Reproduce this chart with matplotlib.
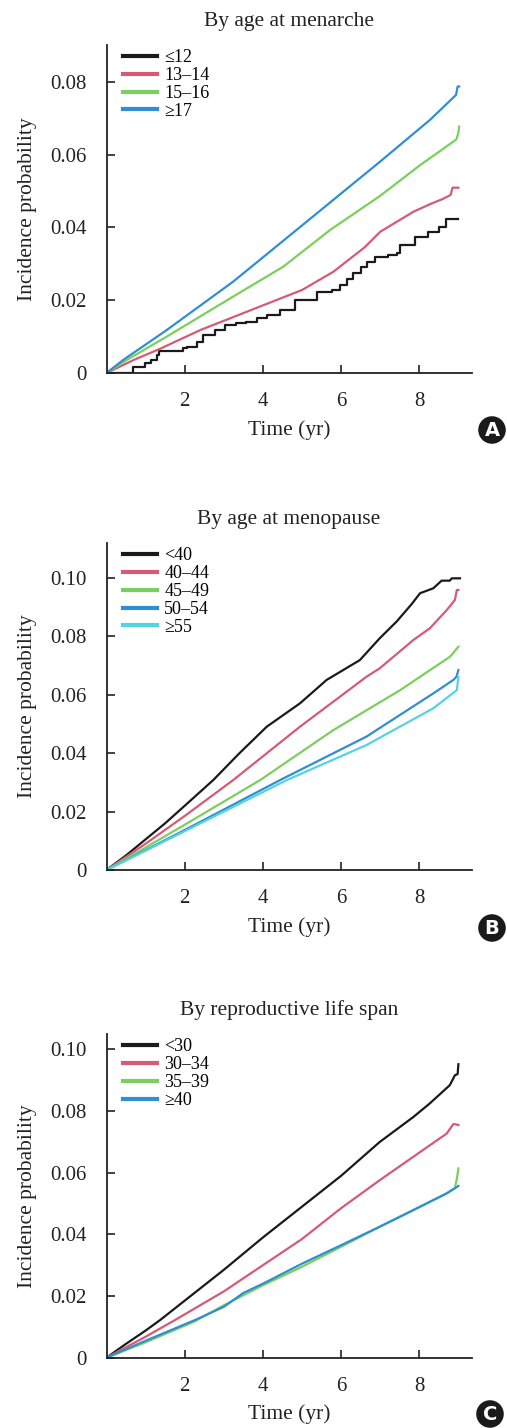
import matplotlib
matplotlib.use("Agg")
import matplotlib.pyplot as plt

# ==========================================
# 0. font / style
# ==========================================
plt.rcParams['font.family'] = ['Liberation Serif', 'DejaVu Serif']
plt.rcParams['axes.unicode_minus'] = False

C_BLACK = '#1a1a1a'
C_RED = '#d45b73'
C_GREEN = '#7bcf5c'
C_BLUE = '#2f8fd2'
C_CYAN = '#55d3df'

# ==========================================
# 1. data
# ==========================================
# A: age at menarche
a_le12_t = [0, 0.56, 0.68, 0.98, 1.13, 1.28, 1.33, 1.96, 2.05, 2.31, 2.48, 2.77, 3.03, 3.30, 3.58,
            3.84, 4.10, 4.44, 4.82, 5.25, 5.38, 5.76, 5.97, 6.15, 6.31, 6.50, 6.65, 6.87, 7.21,
            7.42, 7.51, 7.80, 7.89, 8.19, 8.22, 8.36, 8.50, 8.69, 9.00]
a_le12_v = [0, 0, 0.0017, 0.0028, 0.0035, 0.0049, 0.0061, 0.0068, 0.0072, 0.0086, 0.0104, 0.0118,
            0.0132, 0.0136, 0.0141, 0.0150, 0.0159, 0.0173, 0.0200, 0.0200, 0.0223, 0.0228, 0.0242,
            0.0258, 0.0274, 0.0290, 0.0306, 0.0320, 0.0324, 0.0329, 0.0352, 0.0352, 0.0374, 0.0374,
            0.0388, 0.0388, 0.0400, 0.0423, 0.0423]
a_13_t = [0, 0.7, 1.4, 2.4, 3.7, 5.0, 5.8, 6.6, 7.0, 7.85, 8.3, 8.6, 8.8, 8.85, 9.0]
a_13_v = [0, 0.0036, 0.0068, 0.0118, 0.0173, 0.0228, 0.0278, 0.0345, 0.0388, 0.0443, 0.0465,
          0.0478, 0.0489, 0.0509, 0.0509]
a_15_t = [0, 0.52, 1.54, 3.24, 4.52, 5.72, 6.99, 8.02, 8.6, 8.95, 9.0, 9.02]
a_15_v = [0, 0.0036, 0.0100, 0.0210, 0.0292, 0.0393, 0.0486, 0.0571, 0.0615, 0.0642, 0.0660, 0.0677]
a_ge17_t = [0, 0.43, 1.54, 3.24, 4.86, 6.99, 8.27, 8.94, 8.98, 9.02]
a_ge17_v = [0, 0.0036, 0.0118, 0.0251, 0.0393, 0.0580, 0.0695, 0.0764, 0.0787, 0.0787]

# B: age at menopause
b_lt40_t = [0, 0.5, 1.0, 1.5, 2.0, 2.73, 3.4, 4.10, 4.95, 5.63, 6.48, 6.99, 7.42, 7.8, 8.02,
            8.36, 8.57, 8.78, 8.83, 9.04]
b_lt40_v = [0, 0.0050, 0.0105, 0.0160, 0.0220, 0.0308, 0.0400, 0.0491, 0.0571, 0.0651, 0.0719,
            0.0794, 0.0851, 0.0910, 0.0948, 0.0965, 0.0991, 0.0991, 0.0999, 0.0999]
b_40_t = [0, 0.5, 1.0, 2.0, 3.24, 4.95, 6.65, 6.99, 7.85, 8.27, 8.70, 8.91, 8.96, 9.0]
b_40_v = [0, 0.0045, 0.0090, 0.0185, 0.0308, 0.0491, 0.0662, 0.0691, 0.0788, 0.0828, 0.0890,
          0.0925, 0.0959, 0.0959]
b_45_t = [0, 1.0, 2.0, 3.93, 5.80, 7.51, 8.79, 9.0]
b_45_v = [0, 0.0077, 0.0155, 0.0308, 0.0479, 0.0616, 0.0731, 0.0765]
b_50_t = [0, 1.0, 2.0, 4.44, 6.65, 8.36, 8.87, 8.95, 9.0]
b_50_v = [0, 0.0068, 0.0137, 0.0308, 0.0457, 0.0605, 0.0651, 0.0662, 0.0685]
b_ge55_t = [0, 1.0, 2.0, 4.61, 6.65, 8.36, 8.91, 8.96, 9.0]
b_ge55_v = [0, 0.0066, 0.0133, 0.0308, 0.0428, 0.0554, 0.0611, 0.0616, 0.0662]

# C: reproductive life span
c_lt30_t = [0, 0.5, 1.0, 1.37, 2.0, 3.0, 4.0, 5.0, 6.0, 6.99, 7.85, 8.27, 8.78, 8.91, 8.98, 9.0]
c_lt30_v = [0, 0.0045, 0.0088, 0.0122, 0.0185, 0.0285, 0.0390, 0.0490, 0.0590, 0.0700, 0.0781,
            0.0825, 0.0884, 0.0916, 0.0920, 0.0952]
c_30_t = [0, 1.0, 1.75, 3.0, 4.0, 5.0, 6.0, 6.99, 7.85, 8.70, 8.87, 9.0]
c_30_v = [0, 0.0068, 0.0122, 0.0215, 0.0300, 0.0385, 0.0485, 0.0576, 0.0652, 0.0727, 0.0758, 0.0755]
c_35_t = [0, 1.0, 2.26, 3.0, 4.0, 5.0, 6.0, 6.99, 7.85, 8.70, 8.91, 8.96, 9.0]
c_35_v = [0, 0.0050, 0.0118, 0.0170, 0.0235, 0.0295, 0.0360, 0.0425, 0.0479, 0.0533, 0.0550,
          0.0580, 0.0614]
c_ge40_t = [0, 1.0, 2.26, 3.0, 3.5, 4.0, 5.0, 6.0, 6.99, 7.85, 8.70, 9.0]
c_ge40_v = [0, 0.0055, 0.0122, 0.0165, 0.0210, 0.0240, 0.0305, 0.0365, 0.0425, 0.0479, 0.0533, 0.0557]

x_ticks = [2, 4, 6, 8]

# ==========================================
# 2. figure
# ==========================================
W, H = 507, 1428
fig = plt.figure(figsize=(W / 100, H / 100), dpi=100)


def px_axes(left, right, top, bottom):
    return fig.add_axes([left / W, 1 - bottom / H, (right - left) / W, (bottom - top) / H])


def style_axes(ax, ymax, yticks, title):
    ax.set_xlim(0, 9.34)
    ax.set_ylim(0, ymax)
    ax.set_xticks(x_ticks)
    ax.set_xticklabels([str(t) for t in x_ticks])
    ax.set_yticks(yticks)
    ax.set_yticklabels(['0'] + [f'{v:.2f}' for v in yticks[1:]])
    for s in ['top', 'right']:
        ax.spines[s].set_visible(False)
    for s in ['left', 'bottom']:
        ax.spines[s].set_linewidth(1.3)
        ax.spines[s].set_color('#222222')
    ax.tick_params(direction='in', length=6, width=1.2, colors='#222222', labelsize=15,
                   labelcolor='#222222')
    ax.tick_params(axis='x', pad=14)
    ax.tick_params(axis='y', pad=14)
    ax.set_xlabel('Time (yr)', fontsize=15.5, color='#222222', labelpad=6)
    ax.set_ylabel('Incidence probability', fontsize=15.5, color='#222222', labelpad=10)
    ax.set_title(title, fontsize=15.5, color='#222222', pad=14)


def legend(ax):
    leg = ax.legend(loc='upper left', bbox_to_anchor=(0.02, 1.015), frameon=False, fontsize=13,
                    handlelength=1.9, handletextpad=0.4, labelspacing=0.05, borderaxespad=0.1)
    for h in leg.get_lines():
        h.set_linewidth(3)


def panel_label(letter, x, y):
    fig.text(x / W, 1 - y / H, letter, ha='center', va='center', color='white',
             fontsize=14, fontweight='bold', family='DejaVu Sans',
             bbox=dict(boxstyle='circle,pad=0.22', fc='#1a1a1a', ec='none'))


lw = 1.6

# panel A
ax = px_axes(106.5, 471.7, 45, 373)
ax.plot(a_le12_t, a_le12_v, color=C_BLACK, lw=lw, drawstyle='steps-post', label='≤12')
ax.plot(a_13_t, a_13_v, color=C_RED, lw=lw, label='13–14')
ax.plot(a_15_t, a_15_v, color=C_GREEN, lw=lw, label='15–16')
ax.plot(a_ge17_t, a_ge17_v, color=C_BLUE, lw=lw, label='≥17')
style_axes(ax, 0.0901, [0, 0.02, 0.04, 0.06, 0.08], 'By age at menarche')
legend(ax)
panel_label('A', 492, 430)

# panel B
ax = px_axes(106.5, 471.7, 543, 870)
ax.plot(b_lt40_t, b_lt40_v, color=C_BLACK, lw=lw, label='<40')
ax.plot(b_40_t, b_40_v, color=C_RED, lw=lw, label='40–44')
ax.plot(b_45_t, b_45_v, color=C_GREEN, lw=lw, label='45–49')
ax.plot(b_50_t, b_50_v, color=C_BLUE, lw=lw, label='50–54')
ax.plot(b_ge55_t, b_ge55_v, color=C_CYAN, lw=lw, label='≥55')
style_axes(ax, 0.112, [0, 0.02, 0.04, 0.06, 0.08, 0.10], 'By age at menopause')
legend(ax)
panel_label('B', 492, 928)

# panel C
ax = px_axes(106.5, 471.7, 1034, 1357.7)
ax.plot(c_lt30_t, c_lt30_v, color=C_BLACK, lw=lw, label='<30')
ax.plot(c_30_t, c_30_v, color=C_RED, lw=lw, label='30–34')
ax.plot(c_35_t, c_35_v, color=C_GREEN, lw=lw, label='35–39')
ax.plot(c_ge40_t, c_ge40_v, color=C_BLUE, lw=lw, label='≥40')
style_axes(ax, 0.105, [0, 0.02, 0.04, 0.06, 0.08, 0.10], 'By reproductive life span')
legend(ax)
panel_label('C', 490, 1414)

fig.savefig('out.png', dpi=100)
